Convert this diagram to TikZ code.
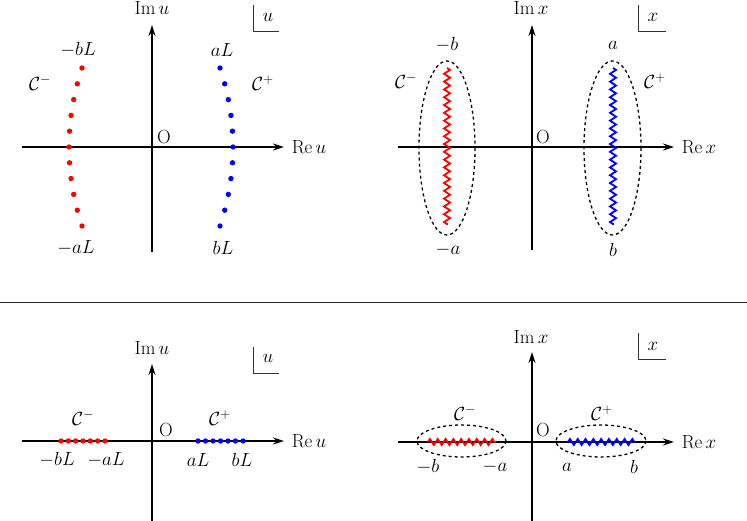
\documentclass[tikz,border=0pt]{standalone}
\usepackage{fix-cm}
\usetikzlibrary{arrows.meta,decorations.pathmorphing}
\begin{document}
\begin{tikzpicture}[x=1pt,y=-1pt,
  lbl/.style={inner sep=0pt,font=\fontsize{19}{23}\selectfont},
  axis/.style={line width=1.4pt,-{Stealth[length=11pt,width=7pt]}},
  corner/.style={line width=1pt,black!80},
  rdot/.style={circle,fill=red,inner sep=0pt,minimum size=5.4pt},
  bdot/.style={circle,fill=blue,inner sep=0pt,minimum size=5.4pt},
  zig/.style={line width=1.8pt,decorate,decoration={zigzag,segment length=7.8pt,amplitude=3pt}},
  cont/.style={line width=1.3pt,dash pattern=on 3pt off 3pt}
]
\useasboundingbox (0,0) rectangle (747,521);

% ================= top-left panel =================
\coordinate (tlW) at (22,147);
\coordinate (tlE) at (284,147);
\coordinate (tlS) at (152,252);
\coordinate (tlN) at (152,25);
\draw[axis] (tlW) -- (tlE);
\draw[axis] (tlS) -- (tlN);
\node[lbl] (tlIm) at (152,8) {$\mathrm{Im}\,u$};
\node[lbl] (tlRe) at (309,147) {$\mathrm{Re}\,u$};
\node[lbl] (tlO) at (164,137) {O};
\coordinate (tlb1) at (253,5);
\coordinate (tlb2) at (253,32);
\coordinate (tlb3) at (279,32);
\draw[corner] (tlb1) -- (tlb2) -- (tlb3);
\node[lbl] (tlu) at (268,17) {$u$};
\foreach \i in {-5,...,5}{
  \node[rdot] (tlr\i) at ({69+0.52*\i*\i},{147+15.8*\i}) {};
  \node[bdot] (tlbl\i) at ({233-0.52*\i*\i},{147+15.8*\i}) {};
}
\node[lbl] (tlmbL) at (78,50) {$-bL$};
\node[lbl] (tlaL) at (222,50) {$aL$};
\node[lbl] (tlmaL) at (76,248) {$-aL$};
\node[lbl] (tlbL) at (223,248) {$bL$};
\node[lbl] (tlCm) at (40,83) {$\mathcal{C}^-$};
\node[lbl] (tlCp) at (263,83) {$\mathcal{C}^+$};

% ================= top-right panel =================
\coordinate (trW) at (398,147);
\coordinate (trE) at (674,147);
\coordinate (trS) at (532,250);
\coordinate (trN) at (532,25);
\draw[axis] (trW) -- (trE);
\draw[axis] (trS) -- (trN);
\node[lbl] (trIm) at (531,8) {$\mathrm{Im}\,x$};
\node[lbl] (trRe) at (699,147) {$\mathrm{Re}\,x$};
\node[lbl] (trO) at (543,137) {O};
\coordinate (trb1) at (638,5);
\coordinate (trb2) at (638,32);
\coordinate (trb3) at (666,32);
\draw[corner] (trb1) -- (trb2) -- (trb3);
\node[lbl] (trx) at (653,17) {$x$};
\coordinate (trr1) at (447,68);
\coordinate (trr2) at (447,225);
\coordinate (trbl1) at (613,68);
\coordinate (trbl2) at (613,225);
\draw[zig,red] (trr1) -- (trr2);
\draw[zig,blue] (trbl1) -- (trbl2);
\draw[cont] (447,148) ellipse [x radius=28, y radius=87];
\draw[cont] (612.5,148) ellipse [x radius=28.5, y radius=87];
\node[lbl] (trmb) at (447,45) {$-b$};
\node[lbl] (tra) at (613,45) {$a$};
\node[lbl] (trma) at (448,250) {$-a$};
\node[lbl] (trb) at (613,250) {$b$};
\node[lbl] (trCm) at (406,81) {$\mathcal{C}^-$};
\node[lbl] (trCp) at (655,81) {$\mathcal{C}^+$};

% ================= separator =================
\coordinate (sepL) at (0,303);
\coordinate (sepR) at (747,303);
\draw[line width=1pt,black!85] (sepL) -- (sepR);

% ================= bottom-left panel =================
\coordinate (blW) at (22,441);
\coordinate (blE) at (284,441);
\coordinate (blS) at (152,521);
\coordinate (blN) at (152,364);
\draw[axis] (blW) -- (blE);
\draw[axis] (blS) -- (blN);
\node[lbl] (blIm) at (152,348) {$\mathrm{Im}\,u$};
\node[lbl] (blRe) at (309,441) {$\mathrm{Re}\,u$};
\node[lbl] (blO) at (166,430) {O};
\coordinate (blb1) at (253,347);
\coordinate (blb2) at (253,373);
\coordinate (blb3) at (279,373);
\draw[corner] (blb1) -- (blb2) -- (blb3);
\node[lbl] (blu) at (268,358) {$u$};
\foreach \k in {0,...,6}{
  \node[rdot] (blr\k) at ({61+7.33*\k},441) {};
  \node[bdot] (blbl\k) at ({198+7.5*\k},441) {};
}
\node[lbl] (blmbL) at (57,460) {$-bL$};
\node[lbl] (blmaL) at (106,460) {$-aL$};
\node[lbl] (blaL) at (198,460) {$aL$};
\node[lbl] (blbL) at (242,460) {$bL$};
\node[lbl] (blCm) at (83,418) {$\mathcal{C}^-$};
\node[lbl] (blCp) at (220,418) {$\mathcal{C}^+$};

% ================= bottom-right panel =================
\coordinate (brW) at (398,442);
\coordinate (brE) at (674,442);
\coordinate (brS) at (532,521);
\coordinate (brN) at (532,352);
\draw[axis] (brW) -- (brE);
\draw[axis] (brS) -- (brN);
\node[lbl] (brIm) at (531,337) {$\mathrm{Im}\,x$};
\node[lbl] (brRe) at (699,442) {$\mathrm{Re}\,x$};
\node[lbl] (brO) at (543,430) {O};
\coordinate (brb1) at (638,333);
\coordinate (brb2) at (638,359);
\coordinate (brb3) at (666,359);
\draw[corner] (brb1) -- (brb2) -- (brb3);
\node[lbl] (brx) at (653,346) {$x$};
\coordinate (brr1) at (428,442);
\coordinate (brr2) at (496,442);
\coordinate (brbl1) at (568,442);
\coordinate (brbl2) at (635,442);
\draw[zig,red] (brr1) -- (brr2);
\draw[zig,blue] (brbl1) -- (brbl2);
\draw[cont] (461.5,441) ellipse [x radius=44.5, y radius=16];
\draw[cont] (601,441) ellipse [x radius=45, y radius=16];
\node[lbl] (brmb) at (428,467) {$-b$};
\node[lbl] (brma) at (495,467) {$-a$};
\node[lbl] (bra) at (567,467) {$a$};
\node[lbl] (brb) at (634,467) {$b$};
\node[lbl] (brCm) at (465,413) {$\mathcal{C}^-$};
\node[lbl] (brCp) at (602,413) {$\mathcal{C}^+$};
\end{tikzpicture}
\end{document}
